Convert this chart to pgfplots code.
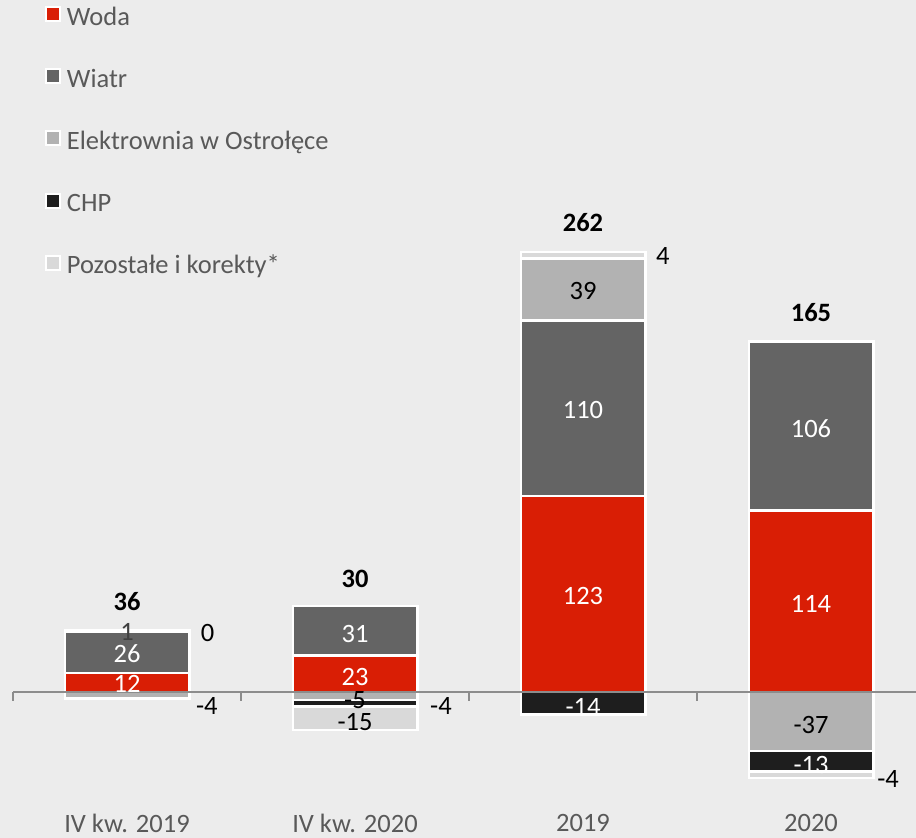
\documentclass[border=0pt]{standalone}
\usepackage{pgfplots}
\pgfplotsset{compat=1.18}
\usepackage{fontspec}
\setmainfont{Carlito}
\definecolor{bg}{HTML}{ECECEC}
\definecolor{woda}{HTML}{D91E05}
\definecolor{wiatr}{HTML}{646464}
\definecolor{elek}{HTML}{B2B2B2}
\definecolor{chp}{HTML}{1E1E1E}
\definecolor{poz}{HTML}{D9D9D9}
\definecolor{labgray}{HTML}{595959}
\definecolor{axgray}{HTML}{8C8C8C}
\newcommand{\fs}{\fontsize{26.5bp}{31bp}\selectfont}
\pgfplotsset{
  base/.style={scale only axis, width=912bp, height=838bp,
    xmin=-0.5, xmax=3.5, ymin=-91.6, ymax=434.1,
    hide axis, clip=false, at={(13bp,0bp)}, anchor=south west},
  seg/.style={fill=#1, draw=white, line width=2.5bp},
  lab/.style={draw=none, mark=none, nodes near coords, point meta=explicit symbolic,
    nodes near coords align=center,
    every node near coord/.append style={anchor=center, inner sep=0pt, font=\fs, text=#1}},
}
\begin{document}
\begin{tikzpicture}
\fill[bg] (0,0) rectangle (916bp,838bp);
\useasboundingbox (0,0) rectangle (916bp,838bp);
% positive stack
\begin{axis}[base, ybar stacked, bar width=124.5bp,
  legend style={at={(axis cs:-0.36,432.7)}, anchor=north west, draw=none, fill=none,
    inner sep=0pt, outer sep=0pt, row sep=34.1bp, font=\fs, text=labgray,
    /tikz/column sep=6bp,
    nodes={inner sep=0pt, text height=19bp, text depth=5bp}},
  legend cell align=left,
  legend image code/.code={\path[draw=none, fill=none] (0bp,0bp) rectangle (16bp,16bp);
    \draw[#1, overlay, line width=2bp] (1bp,-3bp) rectangle (15bp,11bp);}]
\addplot[seg=woda] coordinates {(0,12) (1,23) (2,123) (3,114)};
\addplot[seg=wiatr] coordinates {(0,26) (1,31) (2,110) (3,106)};
\addplot[seg=elek] coordinates {(0,0) (1,0) (2,39) (3,0)};
\addplot[seg=chp] coordinates {(0,0) (1,0) (2,0) (3,0)};
\addplot[seg=poz] coordinates {(0,1) (1,0) (2,4) (3,0)};
\legend{Woda, Wiatr, Elektrownia w Ostrołęce, CHP, Pozostałe i korekty*}
\end{axis}
% negative stack
\begin{axis}[base, ybar stacked, bar width=124.5bp]
\addplot[seg=elek] coordinates {(0,-4) (1,-5) (2,0) (3,-37)};
\addplot[seg=chp] coordinates {(0,0) (1,-4) (2,-14) (3,-13)};
\addplot[seg=poz] coordinates {(0,0) (1,-15) (2,0) (3,-4)};
\end{axis}
% labels and axis line
\begin{axis}[base]
\draw[axgray, line width=2bp] (axis cs:-0.5,0) -- (axis cs:3.5,0);
\draw[axgray, line width=2bp] (axis cs:-0.5,0) -- (axis cs:-0.5,-5.6);
\draw[axgray, line width=2bp] (axis cs:0.5,0) -- (axis cs:0.5,-5.6);
\draw[axgray, line width=2bp] (axis cs:1.5,0) -- (axis cs:1.5,-5.6);
\draw[axgray, line width=2bp] (axis cs:2.5,0) -- (axis cs:2.5,-5.6);
\addplot[lab=white] coordinates {(0,4.8) [12] (0,24) [26] (1,9.5) [23] (1,36.5) [31]
  (2,60) [123] (2,177) [110] (2,-9.7) [-14] (3,55) [114] (3,165) [106] (3,-45.6) [-13]};
\addplot[lab=black] coordinates {(1,-5.3) [-5] (1,-18.6) [-15] (2,251.7) [39] (3,-20.9) [-37]
  (0.353,36.7) [0] (0.35,-8.8) [-4] (1.377,-8.8) [-4] (2.35,273.5) [4] (3.338,-54.6) [-4]};
\addplot[lab=black!75] coordinates {(0,37.8) [1]};
\addplot[lab=black, every node near coord/.append style={font=\fs\bfseries}] coordinates {(0,56.5) [36] (1,70.9) [30] (2,294.4) [262] (3,237.8) [165]};
\addplot[lab=labgray] coordinates {(0,-82.3) [IV kw. 2019] (1,-82.3) [IV kw. 2020] (2,-82.3) [2019] (3,-82.3) [2020]};
\end{axis}
\end{tikzpicture}
\end{document}
